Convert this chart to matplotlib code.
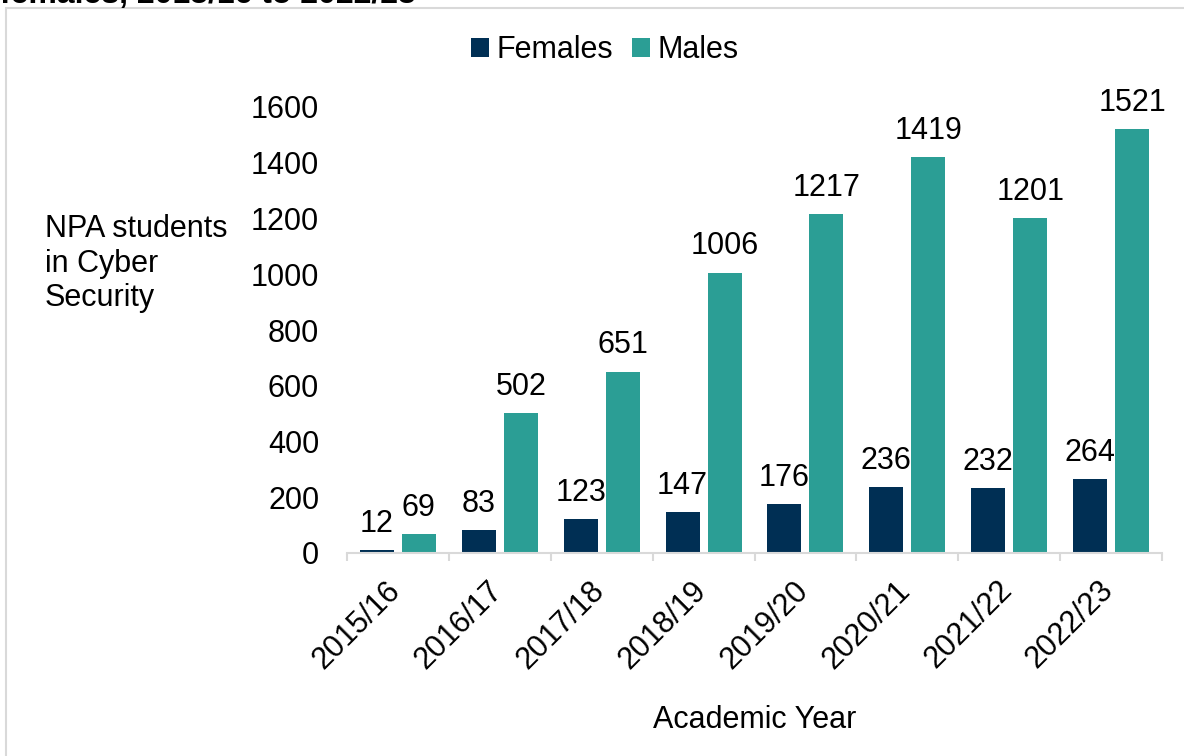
import numpy as np
import matplotlib.pyplot as plt
import matplotlib.transforms as mtransforms
from matplotlib.patches import Rectangle

plt.rcParams["font.family"] = ["Liberation Sans", "DejaVu Sans"]

years = ["2015/16", "2016/17", "2017/18", "2018/19", "2019/20", "2020/21", "2021/22", "2022/23"]
females = [12, 83, 123, 147, 176, 236, 232, 264]
males = [69, 502, 651, 1006, 1217, 1419, 1201, 1521]

female_color = "#002F54"
male_color = "#2B9E95"
fs = 22

fig = plt.figure(figsize=(11.84, 7.56), dpi=100)

# outer frame and the clipped title line
fig.patches.append(Rectangle((6 / 1184, -0.05), 1.1, 1 - 8 / 756 + 0.05,
                             transform=fig.transFigure, fill=False,
                             edgecolor="#d9d9d9", linewidth=1.5))
fig.text(0.0, 1 - 3 / 756, "females, 2015/16 to 2022/23", fontsize=23,
         fontweight="bold", ha="left", va="baseline")

ax = fig.add_axes([347 / 1184, 1 - 553 / 756, (1162 - 347) / 1184, (553 - 107) / 756])

x = np.arange(len(years))
w = 0.334
off = 0.206
bf = ax.bar(x - off, females, w, color=female_color, label="Females")
bm = ax.bar(x + off, males, w, color=male_color, label="Males")

for xi, v in zip(x, females):
    ax.text(xi - off, v + 40, str(v), ha="center", va="bottom", fontsize=fs)
for xi, v in zip(x, males):
    ax.text(xi + off, v + 40, str(v), ha="center", va="bottom", fontsize=fs)

ax.set_xlim(-0.5, len(years) - 0.5)
ax.set_ylim(0, 1600)
ax.set_yticks(range(0, 1601, 200))
ax.tick_params(axis="y", length=0, labelsize=fs, pad=20)

ax.set_xticks(x)
ax.set_xticklabels(years, rotation=45, ha="right", rotation_mode="anchor", fontsize=fs)
ax.tick_params(axis="x", which="major", length=0, pad=14)
shift = mtransforms.ScaledTranslation(-9 / 72, -2 / 72, fig.dpi_scale_trans)
for lbl in ax.get_xticklabels():
    lbl.set_transform(lbl.get_transform() + shift)
ax.set_xticks(np.arange(-0.5, len(years)), minor=True)
ax.tick_params(axis="x", which="minor", length=6, color="#d9d9d9", width=1.5)

for s in ["top", "right", "left"]:
    ax.spines[s].set_visible(False)
ax.spines["bottom"].set_color("#d9d9d9")
ax.spines["bottom"].set_linewidth(1.5)

ax.set_xlabel("Academic Year", fontsize=fs, labelpad=22)
fig.text(45 / 1184, 1 - 214 / 756, "NPA students\nin Cyber\nSecurity", fontsize=fs,
         ha="left", va="top", linespacing=1.2)

fig.legend(handles=[bf, bm], loc="center", bbox_to_anchor=(605 / 1184, 1 - 50 / 756),
           ncol=2, frameon=False, fontsize=fs, handlelength=0.6, handleheight=0.6,
           handletextpad=0.25, columnspacing=0.6)

fig.savefig("out.png", dpi=100)
